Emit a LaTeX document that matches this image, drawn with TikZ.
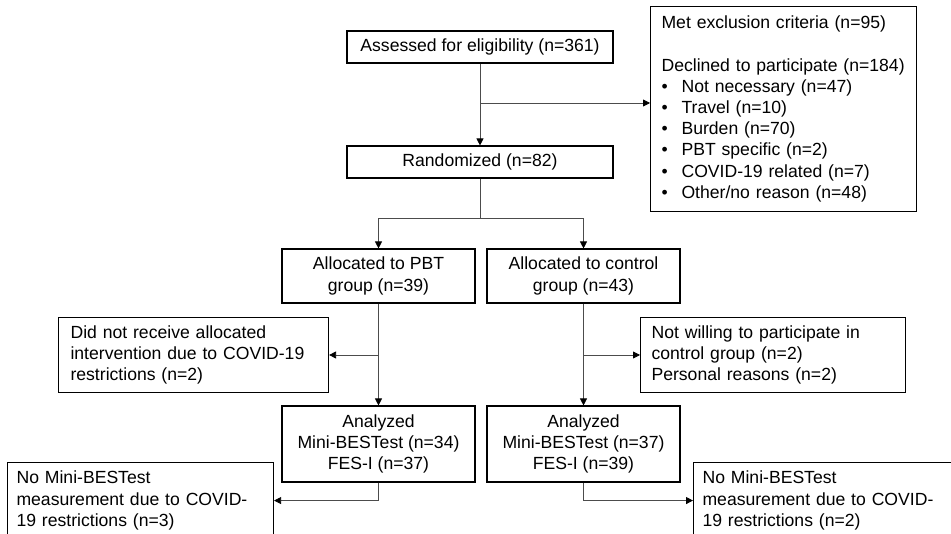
\documentclass[tikz,border=0pt]{standalone}
\usepackage{fontspec}
\setmainfont{Liberation Sans}
\usetikzlibrary{arrows.meta}

\tikzstyle{box}=[draw, line width=1.1pt, inner ysep=0pt, font=\fontsize{17.6}{21.2}\selectfont]
\tikzstyle{mid box}=[box, align=center, inner xsep=0pt]
\tikzstyle{side box}=[box, align=left, anchor=north west]
\tikzstyle{edge}=[draw, line width=0.8pt, black!70, -{Triangle[length=7pt,width=7pt,color=black]}]
\tikzstyle{plain edge}=[draw, line width=0.8pt, black!70]

\newcommand{\bitem}[1]{\\\makebox[20pt][l]{\textbullet}#1}

\begin{document}
\begin{tikzpicture}[x=1pt, y=-1pt]
        \useasboundingbox (0,0) rectangle (951,534);
        \clip (0,0) rectangle (951,534);
        % main column
        \node[mid box, minimum width=266pt, minimum height=32pt] (assess) at (480,47) {Assessed for eligibility (n=361)};
        \node[mid box, minimum width=266pt, minimum height=32pt] (rand) at (480,162) {Randomized (n=82)};
        \foreach \pos/\h/\name/\txt in {{(378.5,276)/54/pbt/Allocated to PBT\\group (n=39)},
                                        {(583.5,276)/54/ctrl/Allocated to control\\group (n=43)},
                                        {(378.5,444)/76/anpbt/Analyzed\\Mini-BESTest (n=34)\\FES-I (n=37)},
                                        {(583.5,444)/76/anctrl/Analyzed\\Mini-BESTest (n=37)\\FES-I (n=39)}}
            \node[mid box, minimum width=193pt, minimum height=\h pt] (\name) at \pos {\txt};
        % side boxes
        \node[side box, inner xsep=11pt, text width=244pt, minimum height=205pt] (excl) at (650,6)
            {Met exclusion criteria (n=95)\\[21.2pt]Declined to participate (n=184)%
             \bitem{Not necessary (n=47)}\bitem{Travel (n=10)}\bitem{Burden (n=70)}%
             \bitem{PBT specific (n=2)}\bitem{COVID-19 related (n=7)}\bitem{Other/no reason (n=48)}};
        \node[side box, inner xsep=12pt, text width=246pt, minimum height=75pt] (did) at (58,317)
            {Did not receive allocated\\intervention due to COVID-19\\restrictions (n=2)};
        \node[side box, inner xsep=11pt, text width=243pt, minimum height=75pt] (notw) at (640,317)
            {Not willing to participate in\\control group (n=2)\\Personal reasons (n=2)};
        \node[side box, inner xsep=9pt, text width=248pt, minimum height=76pt] (nomil) at (7,462)
            {No Mini-BESTest\\measurement due to COVID-\\19 restrictions (n=3)};
        \node[side box, inner xsep=9pt, text width=248pt, minimum height=76pt] (nomir) at (693,462)
            {No Mini-BESTest\\measurement due to COVID-\\19 restrictions (n=2)};
        % branch points
        \coordinate (exc) at (480,103);
        \coordinate (split) at (480,218);
        \coordinate (dropl) at (378.5,355);
        \coordinate (dropr) at (583.5,355);
        \foreach \source/\dest in {assess/rand, pbt/anpbt, ctrl/anctrl}
            \path[edge] (\source) -- (\dest);
        \path[edge] (exc) -- (excl.west |- exc);
        \path[plain edge] (rand) -- (split);
        \path[edge] (split) -| (pbt);
        \path[edge] (split) -| (ctrl);
        \path[edge] (dropl) -- (did.east |- dropl);
        \path[edge] (dropr) -- (notw.west |- dropr);
        \path[edge] (anpbt) |- (nomil);
        \path[edge] (anctrl) |- (nomir);
    \end{tikzpicture}
\end{document}
